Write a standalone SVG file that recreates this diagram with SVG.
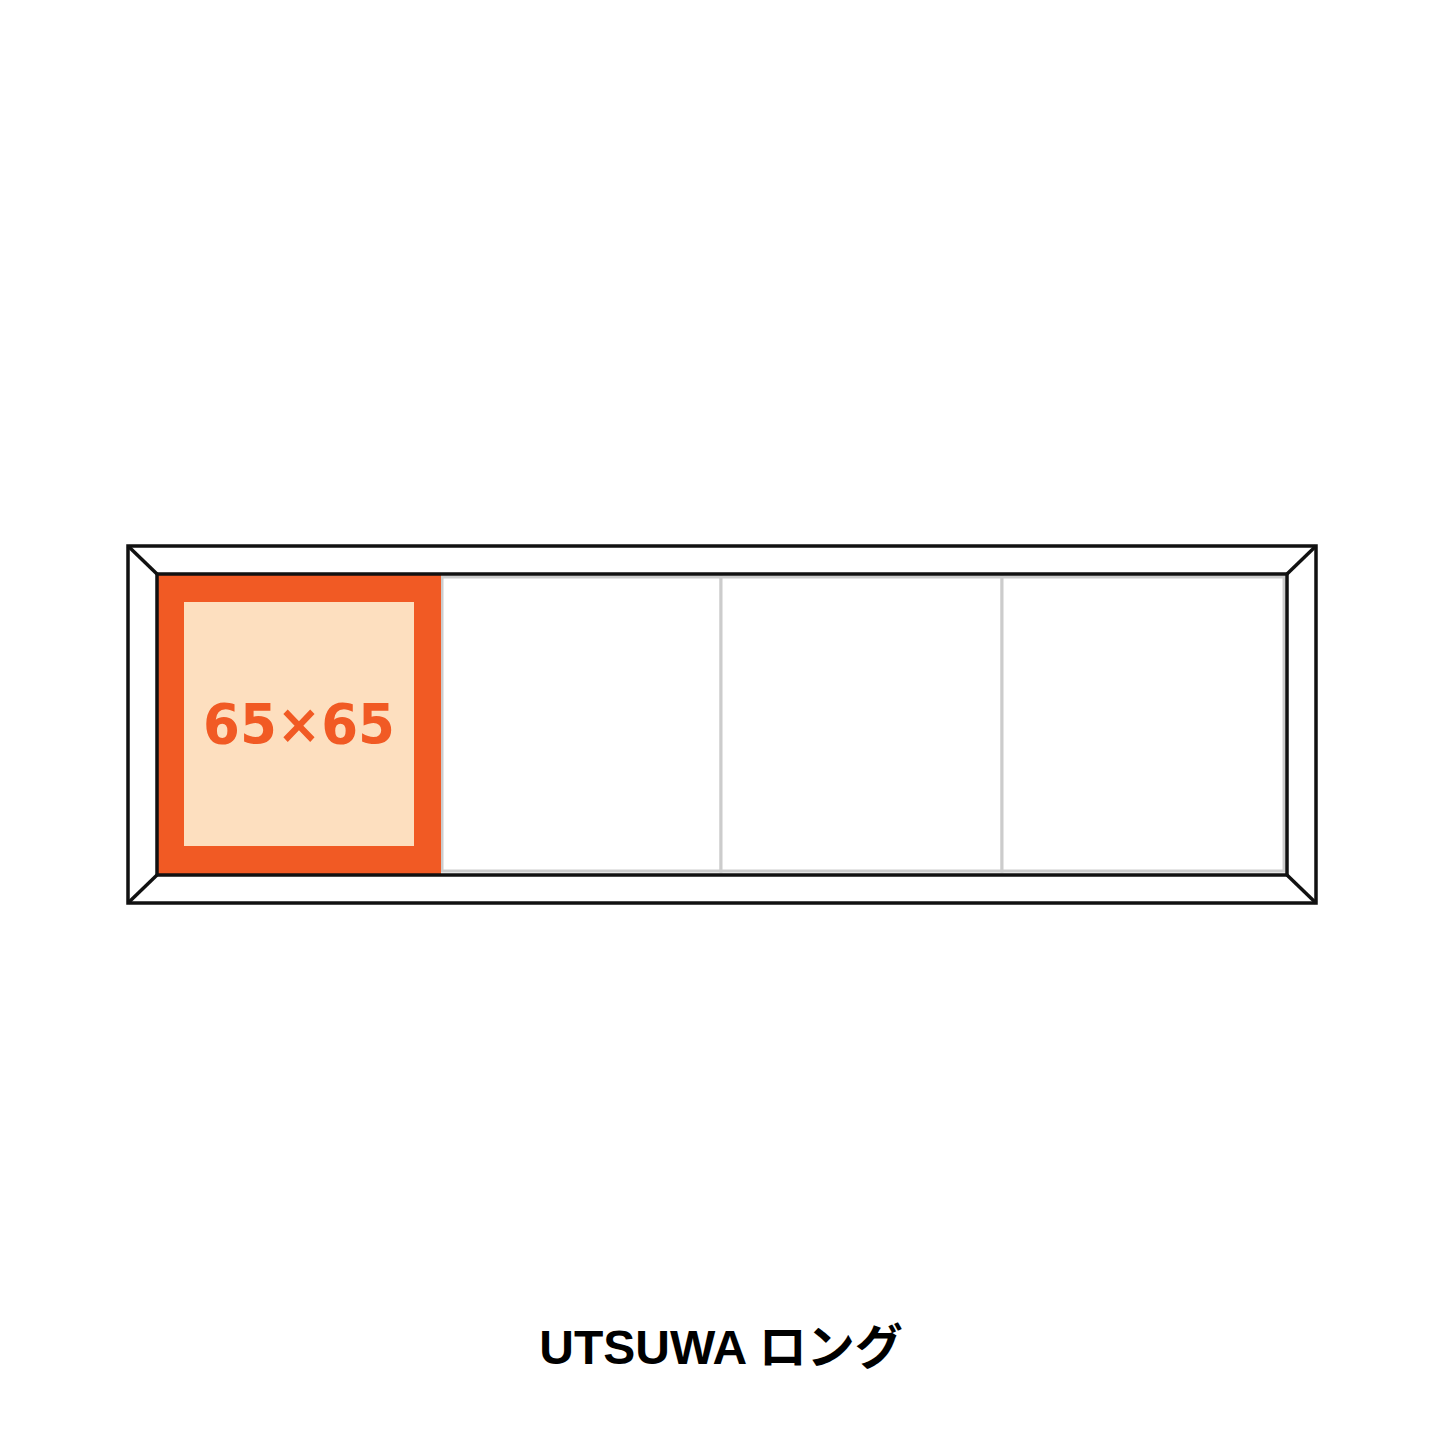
<svg xmlns="http://www.w3.org/2000/svg" width="1445" height="1445" viewBox="0 0 1445 1445">
<style>
.blk{fill:none;stroke:#111;stroke-width:3.5}
.cell{fill:#fff;stroke:#cccccc;stroke-width:3}
</style>
<rect width="1445" height="1445" fill="#fff"/>
<g id="frame">
<rect x="128" y="546" width="1188" height="357" fill="#fff" class="blk"/>
<line x1="128" y1="546" x2="157" y2="574" class="blk"/>
<line x1="1316" y1="546" x2="1287" y2="574" class="blk"/>
<line x1="128" y1="903" x2="157" y2="875" class="blk"/>
<line x1="1316" y1="903" x2="1287" y2="875" class="blk"/>
</g>
<g id="cells">
<rect x="442" y="577" width="279" height="294" class="cell"/>
<rect x="721" y="577" width="281" height="294" class="cell"/>
<rect x="1002" y="577" width="282" height="294" class="cell"/>
</g>
<g id="highlight">
<rect x="157" y="574" width="284" height="300" fill="#f15a24"/>
<rect x="184" y="602" width="230" height="244" fill="#fddfbf"/>
<text x="299" y="743" text-anchor="middle" font-family="'DejaVu Sans', sans-serif" font-weight="bold" font-size="55" fill="#f15a24" textLength="192" lengthAdjust="spacingAndGlyphs">65×65</text>
</g>
<rect x="157" y="574" width="1130" height="301" class="blk"/>
<text x="721" y="1364" text-anchor="middle" font-family="'Liberation Sans', 'Noto Sans CJK JP', sans-serif" font-weight="bold" font-size="48" fill="#000">UTSUWA ロング</text>
</svg>
